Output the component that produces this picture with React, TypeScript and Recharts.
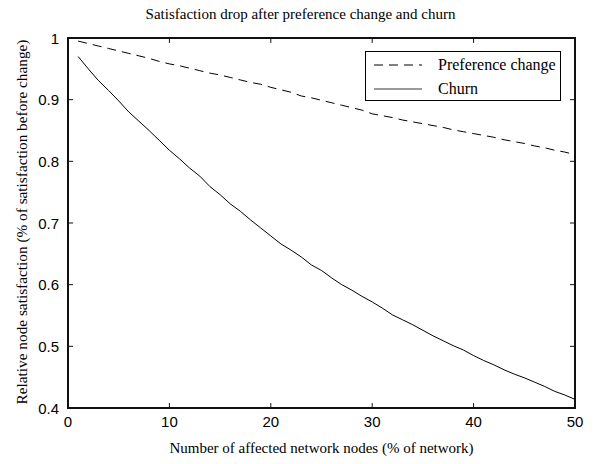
import React from 'react';
import { LineChart, Line, XAxis, YAxis, CartesianGrid, ReferenceArea, ReferenceLine } from 'recharts';

const nodes = [
  1, 2, 3, 4, 5, 6, 7, 8, 9, 10, 11, 12, 13, 14, 15, 16, 17, 18, 19, 20, 21, 22, 23, 24, 25,
  26, 27, 28, 29, 30, 31, 32, 33, 34, 35, 36, 37, 38, 39, 40, 41, 42, 43, 44, 45, 46, 47, 48, 49, 50,
];

const preferenceChange = [
  0.995, 0.991, 0.987, 0.983, 0.979, 0.975, 0.971, 0.967, 0.962, 0.958,
  0.955, 0.951, 0.947, 0.943, 0.94, 0.936, 0.932, 0.928, 0.925, 0.92,
  0.916, 0.912, 0.906, 0.903, 0.899, 0.895, 0.891, 0.887, 0.883, 0.877,
  0.874, 0.871, 0.867, 0.864, 0.861, 0.858, 0.855, 0.851, 0.848, 0.845,
  0.842, 0.839, 0.835, 0.832, 0.829, 0.825, 0.822, 0.818, 0.815, 0.811,
];

const churn = [
  0.97, 0.95, 0.931, 0.915, 0.898, 0.88, 0.865, 0.85, 0.834, 0.818,
  0.804, 0.789, 0.776, 0.759, 0.746, 0.731, 0.719, 0.705, 0.692, 0.679,
  0.666, 0.656, 0.645, 0.632, 0.623, 0.611, 0.6, 0.591, 0.581, 0.572,
  0.562, 0.551, 0.543, 0.535, 0.526, 0.517, 0.509, 0.501, 0.494, 0.485,
  0.477, 0.47, 0.462, 0.455, 0.449, 0.442, 0.435, 0.427, 0.421, 0.414,
];

const xTicks = [0, 10, 20, 30, 40, 50];
const yTicks = [0.4, 0.5, 0.6, 0.7, 0.8, 0.9, 1];

const chartTitle = 'Satisfaction drop after preference change and churn';
const xTitle = 'Number of affected network nodes (% of network)';
const yTitle = 'Relative node satisfaction (% of satisfaction before change)';

const data = nodes.map((n, i) => ({ n, pref: preferenceChange[i], churn: churn[i] }));

const X_MIN = 0;
const X_MAX = 50;
const Y_MIN = 0.4;
const Y_MAX = 1;
// inward tick length (about 5px) in data units
const TICK_DX = 0.5;
const TICK_DY = 0.008;

const frameColor = '#111';
const serif = '"Liberation Serif", "Times New Roman", serif';
const sans = '"Liberation Sans", Arial, sans-serif';

const BottomLabel = ({ x, y, payload }: any) => (
  <text x={x} y={y + 13} textAnchor="middle" dominantBaseline="central" fontFamily={sans} fontSize={15} fill="#000">
    {payload.value}
  </text>
);

const LeftLabel = ({ x, y, payload }: any) => (
  <text x={x - 9} y={y} textAnchor="end" dominantBaseline="central" fontFamily={sans} fontSize={15} fill="#000">
    {String(Math.round(payload.value * 10) / 10)}
  </text>
);

const LegendBox = () => (
  <div
    style={{
      position: 'absolute',
      left: 365,
      top: 51,
      width: 194,
      height: 48,
      border: '1.5px solid #000',
      background: '#fff',
      fontFamily: serif,
      fontSize: 16,
      color: '#000',
    }}
  >
    <div style={{ display: 'flex', alignItems: 'center', height: 24, marginTop: 1 }}>
      <svg width={64} height={10} style={{ marginLeft: 8 }}>
        <line x1={0} y1={5} x2={48} y2={5} stroke="#000" strokeDasharray="9 6" />
      </svg>
      <span>Preference change</span>
    </div>
    <div style={{ display: 'flex', alignItems: 'center', height: 24 }}>
      <svg width={64} height={10} style={{ marginLeft: 8 }}>
        <line x1={0} y1={5} x2={48} y2={5} stroke="#777" strokeWidth={1.5} />
      </svg>
      <span>Churn</span>
    </div>
  </div>
);

export default function App() {
  return (
    <div style={{ position: 'absolute', left: 0, top: 0, width: 601, height: 464, background: '#fff' }}>
      <LineChart width={601} height={464} data={data} margin={{ top: 38, right: 26, left: 0, bottom: 0 }}>
        <CartesianGrid stroke="transparent" />
        <XAxis
          dataKey="n"
          type="number"
          domain={[X_MIN, X_MAX]}
          ticks={xTicks}
          height={56}
          tickSize={0}
          tickMargin={0}
          axisLine={false}
          tickLine={false}
          tick={<BottomLabel />}
        />
        <YAxis
          type="number"
          domain={[Y_MIN, Y_MAX]}
          ticks={yTicks}
          width={68}
          tickSize={0}
          tickMargin={0}
          axisLine={false}
          tickLine={false}
          tick={<LeftLabel />}
        />
        <ReferenceArea x1={X_MIN} x2={X_MAX} y1={Y_MIN} y2={Y_MAX} fill="none" stroke={frameColor} strokeWidth={1.5} />
        {xTicks.map((v) => (
          <ReferenceLine key={`xb${v}`} segment={[{ x: v, y: Y_MIN }, { x: v, y: Y_MIN + TICK_DY }]} stroke={frameColor} />
        ))}
        {xTicks.map((v) => (
          <ReferenceLine key={`xt${v}`} segment={[{ x: v, y: Y_MAX }, { x: v, y: Y_MAX - TICK_DY }]} stroke={frameColor} />
        ))}
        {yTicks.map((v) => (
          <ReferenceLine key={`yl${v}`} segment={[{ x: X_MIN, y: v }, { x: X_MIN + TICK_DX, y: v }]} stroke={frameColor} />
        ))}
        {yTicks.map((v) => (
          <ReferenceLine key={`yr${v}`} segment={[{ x: X_MAX, y: v }, { x: X_MAX - TICK_DX, y: v }]} stroke={frameColor} />
        ))}
        <Line
          dataKey="pref"
          stroke="#000"
          strokeWidth={1}
          strokeDasharray="9 6"
          dot={false}
          isAnimationActive={false}
        />
        <Line dataKey="churn" stroke="#000" strokeWidth={1} dot={false} isAnimationActive={false} />
      </LineChart>
      {/* plot frame, matching the margins above */}
      <div
        style={{
          position: 'absolute',
          left: 67,
          top: 37,
          width: 509,
          height: 372,
          border: `2px solid ${frameColor}`,
          boxSizing: 'border-box',
          pointerEvents: 'none',
        }}
      />
      <LegendBox />
      <div
        style={{
          position: 'absolute',
          left: 0,
          top: 0,
          width: 601,
          textAlign: 'center',
          fontFamily: serif,
          fontSize: 15,
          lineHeight: '28px',
          color: '#000',
        }}
      >
        {chartTitle}
      </div>
      <div
        style={{
          position: 'absolute',
          left: 68,
          top: 437,
          width: 507,
          textAlign: 'center',
          fontFamily: serif,
          fontSize: 15,
          lineHeight: '22px',
          color: '#000',
        }}
      >
        {xTitle}
      </div>
      <div
        style={{
          position: 'absolute',
          left: 22 - 190,
          top: 222 - 11,
          width: 380,
          textAlign: 'center',
          fontFamily: serif,
          fontSize: 15.3,
          lineHeight: '22px',
          color: '#000',
          transform: 'rotate(-90deg)',
          whiteSpace: 'nowrap',
        }}
      >
        {yTitle}
      </div>
    </div>
  );
}
